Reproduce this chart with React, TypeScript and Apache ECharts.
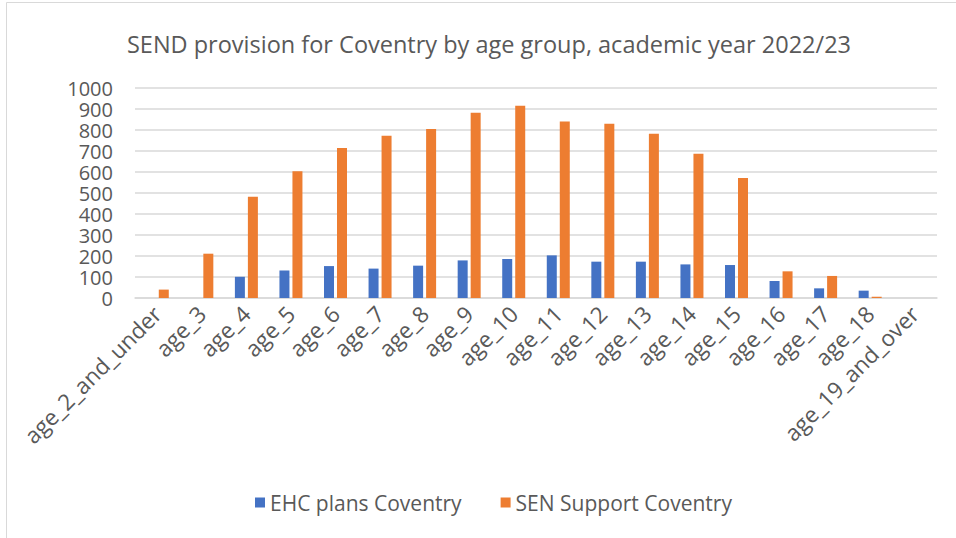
import React, { useEffect, useRef } from "react";
import * as echarts from "echarts";

const categories = [
  "age_2_and_under", "age_3", "age_4", "age_5", "age_6", "age_7", "age_8", "age_9",
  "age_10", "age_11", "age_12", "age_13", "age_14", "age_15", "age_16", "age_17",
  "age_18", "age_19_and_over",
];
const ehcPlans = [0, 0, 101, 131, 152, 140, 154, 179, 186, 203, 173, 173, 160, 157, 81, 46, 35, 0];
const senSupport = [40, 211, 482, 603, 714, 773, 805, 882, 916, 840, 830, 782, 687, 571, 127, 105, 6, 0];
const seriesNames = ["EHC plans Coventry", "SEN Support Coventry"];
const titleText = "SEND provision for Coventry by age group, academic year 2022/23";

const FONT = "'Open Sans', 'Noto Sans', sans-serif";
const TEXT = "#595959";

export default function App() {
  const ref = useRef<HTMLDivElement>(null);
  useEffect(() => {
    if (!ref.current) return;
    const chart = echarts.init(ref.current, undefined, { renderer: "svg" });
    chart.setOption({
      animation: false,
      backgroundColor: "#ffffff",
      textStyle: { fontFamily: FONT },
      title: {
        text: titleText,
        left: 484,
        top: 27,
        textAlign: "center",
        textStyle: { fontFamily: FONT, fontSize: 23.5, fontWeight: "normal", color: TEXT },
      },
      legend: {
        left: 250,
        top: 487,
        itemWidth: 10,
        itemHeight: 10,
        itemGap: 39,
        icon: "rect",
        textStyle: { fontFamily: FONT, fontSize: 21, color: TEXT },
        data: seriesNames,
      },
      graphic: [
        {
          type: "rect",
          shape: { x: 6.5, y: 2.5, width: 1000, height: 1000 },
          style: { fill: "none", stroke: "#D9D9D9", lineWidth: 1 },
          silent: true,
          z: -1,
        },
      ],
      grid: { left: 135, right: 19, top: 88, bottom: 240, containLabel: false },
      xAxis: {
        type: "category",
        data: categories,
        axisLine: { show: true, lineStyle: { color: "#D9D9D9", width: 1.5 } },
        axisTick: { show: false },
        axisLabel: {
          rotate: 45,
          interval: 0,
          margin: 12,
          fontFamily: FONT,
          fontSize: 22.5,
          color: TEXT,
        },
      },
      yAxis: {
        type: "value",
        min: 0,
        max: 1000,
        interval: 100,
        axisLine: { show: false },
        axisTick: { show: false },
        splitLine: { lineStyle: { color: "#D9D9D9", width: 1.5 } },
        axisLabel: {
          margin: 22,
          fontFamily: FONT,
          fontSize: 20,
          lineHeight: 18,
          color: TEXT,
          formatter: (v: number) => String(v),
        },
      },
      series: [
        {
          name: seriesNames[0],
          type: "bar",
          data: ehcPlans,
          barWidth: 10,
          barGap: "30%",
          itemStyle: { color: "#4472C4" },
        },
        {
          name: seriesNames[1],
          type: "bar",
          data: senSupport,
          barWidth: 10,
          barGap: "30%",
          itemStyle: { color: "#ED7D31" },
        },
      ],
    });
    return () => chart.dispose();
  }, []);
  return (
    <div
      ref={ref}
      style={{ position: "absolute", left: 0, top: 0, width: 956, height: 538 }}
    />
  );
}
